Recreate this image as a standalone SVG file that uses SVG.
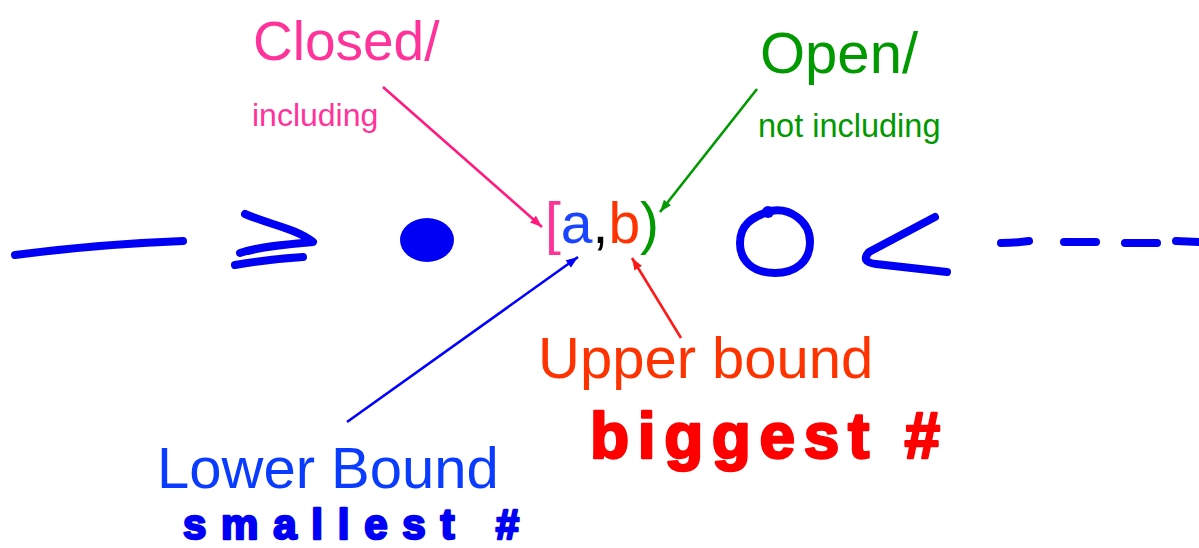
<svg xmlns="http://www.w3.org/2000/svg" width="1199" height="548" viewBox="0 0 1199 548">
<style>
text{font-family:"Liberation Sans",Arial,sans-serif}
.ink{fill:none;stroke:#0000f5;stroke-width:8;stroke-linecap:round;stroke-linejoin:round}
.hand{font-family:"Liberation Sans",Arial,sans-serif;font-weight:bold;stroke-width:2.5;stroke-linejoin:round}
.conn{fill:none;stroke-width:2.6}
</style>
<defs>
<marker id="ahPink" markerUnits="userSpaceOnUse" markerWidth="14" markerHeight="10" refX="12" refY="4.5" orient="auto"><path d="M0,0 L12,4.5 L0,9 z" fill="#ff1a80"/></marker>
<marker id="ahGreen" markerUnits="userSpaceOnUse" markerWidth="14" markerHeight="10" refX="12" refY="4.5" orient="auto"><path d="M0,0 L12,4.5 L0,9 z" fill="#009900"/></marker>
<marker id="ahBlue" markerUnits="userSpaceOnUse" markerWidth="14" markerHeight="10" refX="12" refY="4.5" orient="auto"><path d="M0,0 L12,4.5 L0,9 z" fill="#0000ff"/></marker>
<marker id="ahRed" markerUnits="userSpaceOnUse" markerWidth="14" markerHeight="10" refX="12" refY="4.5" orient="auto"><path d="M0,0 L12,4.5 L0,9 z" fill="#ff1a1a"/></marker>
</defs>
<rect width="1199" height="548" fill="#ffffff"/>

<g id="number-line-ink">
<path class="ink" d="M15,255 Q100,244 183,241"/>
<path class="ink" d="M245,214 C270,225 295,228 313,242 C290,244 262,246 240,253"/>
<path class="ink" d="M235,265 Q270,259 303,257"/>
<ellipse cx="427" cy="240" rx="27" ry="22" fill="#0000f5"/>
<path class="ink" d="M766,212 C790,205 810,222 810,242 C810,262 795,273 775,273 C752,273 740,260 740,243 C740,225 752,217 768,212"/>
<circle cx="768" cy="212" r="6" fill="#0000f5"/>
<path class="ink" d="M935,217 L869,252 Q860,262 876,264 L947,272"/>
<path class="ink" d="M1001,243 Q1015,243 1029,241"/>
<path class="ink" d="M1064,242 L1096,242"/>
<path class="ink" d="M1125,243 L1157,243"/>
<path class="ink" d="M1176,241 L1199,242"/>
</g>

<g id="closed-label">
<text x="253" y="60" font-size="55" fill="#ff3399">Closed/</text>
<text x="252" y="126" font-size="32" fill="#ff3399">including</text>
</g>

<g id="open-label">
<text x="760" y="73" font-size="58" fill="#009900">Open/</text>
<text x="758" y="137" font-size="32.5" fill="#009900">not including</text>
</g>

<g id="interval">
<text x="545" y="243" font-size="57"><tspan fill="#ff3399">[</tspan><tspan fill="#1a44ff">a</tspan><tspan fill="#000000">,</tspan><tspan fill="#ff3300">b</tspan><tspan fill="#009900">)</tspan></text>
</g>

<g id="upper-bound">
<text x="538" y="378" font-size="58" fill="#ff3300">Upper bound</text>
<text class="hand" x="590" y="458" font-size="64" fill="#ff0000" stroke="#ff0000" textLength="350" lengthAdjust="spacing">biggest #</text>
</g>

<g id="lower-bound">
<text x="157" y="488" font-size="58" fill="#0a3cff">Lower Bound</text>
<text class="hand" x="183" y="538.5" font-size="42" fill="#0000f5" stroke="#0000f5" stroke-width="3" textLength="336" lengthAdjust="spacing">smallest #</text>
</g>

<g id="connectors">
<line class="conn" x1="383" y1="87" x2="542" y2="227" stroke="#ff1a80" marker-end="url(#ahPink)"/>
<line class="conn" x1="757" y1="89" x2="660" y2="212" stroke="#009900" marker-end="url(#ahGreen)"/>
<line class="conn" x1="347" y1="422" x2="578" y2="257" stroke="#0000ff" marker-end="url(#ahBlue)"/>
<line class="conn" x1="681" y1="338" x2="632" y2="258" stroke="#ff1a1a" marker-end="url(#ahRed)"/>
</g>
</svg>
